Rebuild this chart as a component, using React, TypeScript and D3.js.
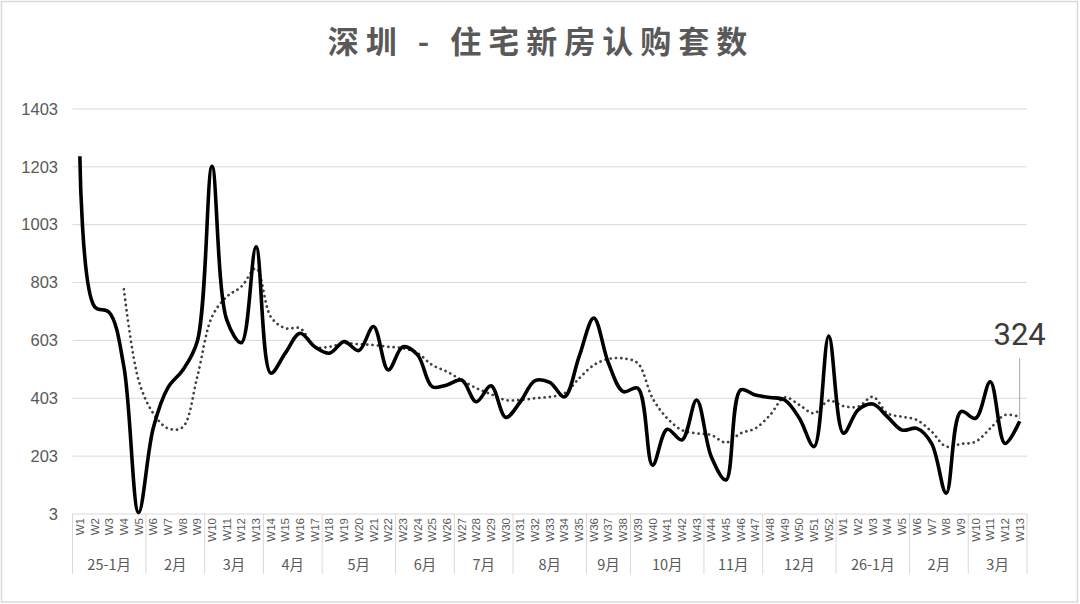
import React from "react";
import * as d3 from "d3";

const weekLabels: string[] = [
  ...d3.range(1, 53).map((i) => `W${i}`),
  ...d3.range(1, 14).map((i) => `W${i}`),
];

const monthLabels = ["25-1月", "2月", "3月", "4月", "5月", "6月", "7月", "8月", "9月", "10月", "11月", "12月", "26-1月", "2月", "3月"];
const monthSizes = [5, 4, 4, 4, 5, 4, 4, 5, 3, 5, 4, 5, 5, 4, 4];

const salesValues = [
  1240, 720, 700, 512, 8, 300, 440, 500, 600, 1205, 675, 595, 927, 490, 560, 628, 581, 559, 599, 568,
  651, 501, 581, 553, 443, 449, 466, 391, 446, 337, 391, 464, 458, 408, 547, 680, 524, 426, 438, 172,
  296, 259, 397, 201, 121, 432, 414, 406, 397, 334, 236, 618,
  282, 363, 383, 339, 293, 299, 247, 75, 357, 334, 460, 247, 324,
];

const trendValues: (number | null)[] = [
  null, null, null, 780, 466, 351, 299, 303, 478, 685, 754, 789, 852, 685, 645, 645, 581, 581, 593, 590,
  587, 581, 576, 559, 518, 495, 466, 438, 417, 397, 397, 403, 408, 420, 472, 518, 539, 541, 524, 403,
  334, 293, 282, 276, 250, 282, 299, 345, 406, 380, 351, 395,
  376, 374, 408, 351, 339, 328, 288, 236, 245, 253, 299, 345, 339,
];

const yTicks = [3, 203, 403, 603, 803, 1003, 1203, 1403];
const title = "深圳 - 住宅新房认购套数";
const lastLabel = "324";

const W = 1080;
const H = 604;
const plotLeft = 72.5;
const plotRight = 1027;
const plotTop = 109;
const plotBottom = 514;

export default function App() {
  const idx = d3.range(weekLabels.length);
  const x = d3.scaleBand<number>().domain(idx).range([plotLeft, plotRight]).padding(0);
  const cx = (i: number) => (x(i) as number) + x.bandwidth() / 2;
  const y = d3.scaleLinear().domain([3, 1403]).range([plotBottom, plotTop]);

  const curve = d3.curveCatmullRom.alpha(0.5);
  const line = d3
    .line<number>()
    .x((_, i) => cx(i))
    .y((d) => y(d))
    .curve(curve);
  const trendLine = d3
    .line<number | null>()
    .defined((d) => d !== null)
    .x((_, i) => cx(i))
    .y((d) => y(d as number))
    .curve(curve);

  const groups: { label: string; start: number; size: number }[] = [];
  let s = 0;
  monthLabels.forEach((m, k) => {
    groups.push({ label: m, start: s, size: monthSizes[k] });
    s += monthSizes[k];
  });

  const lastI = salesValues.length - 1;
  const lastX = cx(lastI);
  const lastY = y(salesValues[lastI]);
  const font = "'Noto Sans CJK SC', 'Liberation Sans', Arial, sans-serif";
  const textColor = "#595959";
  const gridColor = "#d9d9d9";

  return (
    <svg
      width={W}
      height={H}
      style={{ position: "absolute", left: 0, top: 0, background: "#fff" }}
      fontFamily={font}
    >
      <rect x={0} y={0} width={W} height={H} fill="#fff" />
      <rect x={1.5} y={1.5} width={W - 4} height={H - 3.5} fill="none" stroke={gridColor} strokeWidth={1.5} />
      <text
        x={541}
        y={53}
        textAnchor="middle"
        fontSize={31}
        fontWeight={600}
        fill={textColor}
        letterSpacing={7}
      >
        {title}
      </text>

      {/* gridlines */}
      {yTicks.map((t) => (
        <g key={t}>
          <line x1={plotLeft} x2={plotRight} y1={y(t)} y2={y(t)} stroke={gridColor} strokeWidth={1} />
          <text
            x={58}
            y={y(t)}
            dy="0.35em"
            textAnchor="end"
            fontSize={16.5}
            fill={textColor}
            fontFamily="'Liberation Sans', Arial, sans-serif"
          >
            {t}
          </text>
        </g>
      ))}

      {/* category axis */}
      {weekLabels.map((w, i) => (
        <text
          key={i}
          transform={`translate(${cx(i) + 4},${plotBottom + 4}) rotate(-90)`}
          textAnchor="end"
          fontSize={11.5}
          fill={textColor}
          fontFamily="'Liberation Sans', Arial, sans-serif"
        >
          {w}
        </text>
      ))}
      {groups.map((g, k) => (
        <g key={k}>
          <line
            x1={x(g.start) as number}
            x2={x(g.start) as number}
            y1={plotBottom}
            y2={574}
            stroke={gridColor}
            strokeWidth={1}
          />
          <text
            x={(x(g.start) as number) + (g.size * x.bandwidth()) / 2}
            y={570}
            textAnchor="middle"
            fontSize={14.5}
            fill={textColor}
          >
            {g.label}
          </text>
        </g>
      ))}
      <line x1={plotRight} x2={plotRight} y1={plotBottom} y2={574} stroke={gridColor} strokeWidth={1} />

      {/* trend (dotted) */}
      <path
        d={trendLine(trendValues) || ""}
        fill="none"
        stroke="#404040"
        strokeWidth={2.7}
        strokeDasharray="0.1 5.2"
        strokeLinecap="round"
      />
      {/* main series */}
      <path d={line(salesValues) || ""} fill="none" stroke="#000" strokeWidth={3.6} strokeLinejoin="round" />

      {/* last value callout */}
      <line x1={lastX} x2={lastX} y1={358} y2={lastY - 2} stroke="#a6a6a6" strokeWidth={1} />
      <text
        x={lastX}
        y={345}
        textAnchor="middle"
        fontSize={31}
        fontWeight={400}
        fill="#3a3a3a"
        fontFamily="Roboto, 'Liberation Sans', Arial, sans-serif"
      >
        {lastLabel}
      </text>
    </svg>
  );
}
